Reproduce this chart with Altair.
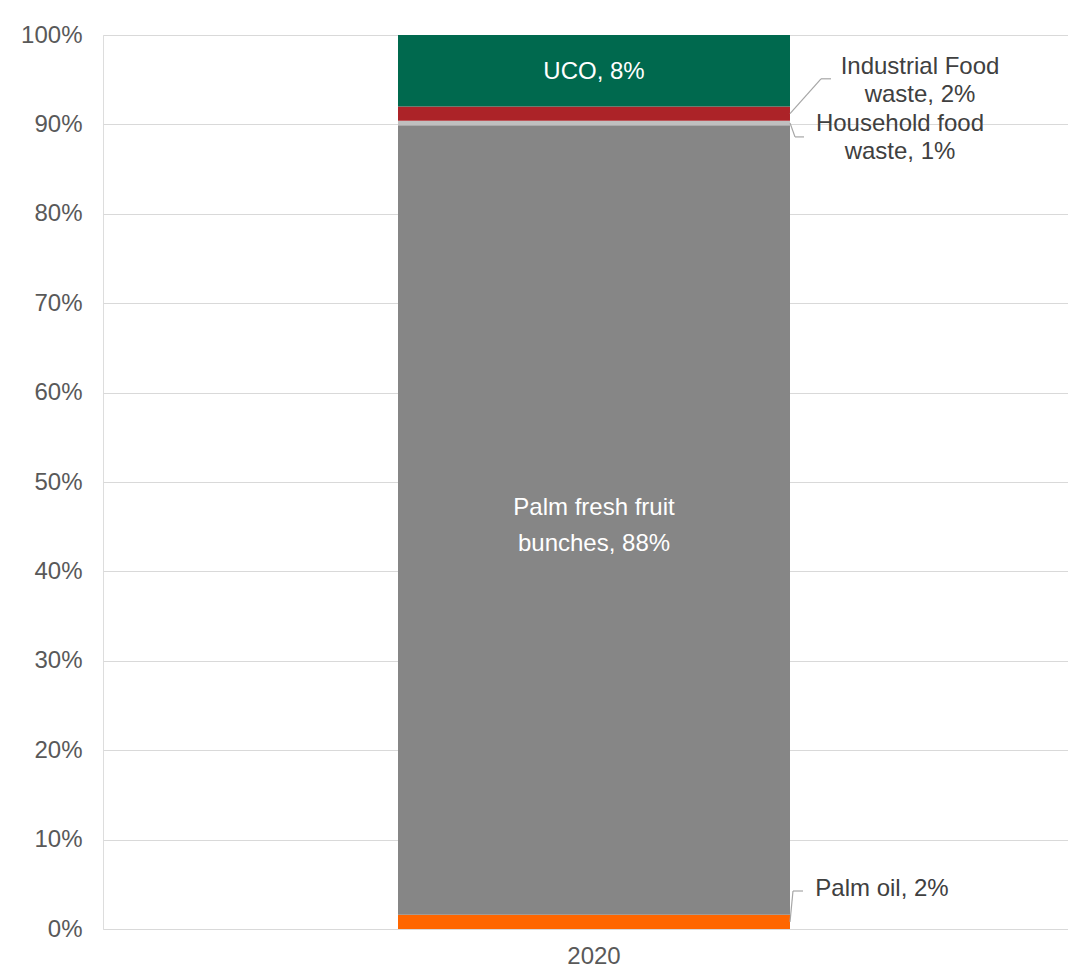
import altair as alt
import pandas as pd

# ---- data ----
categories = ["Palm oil", "Palm fresh fruit bunches", "Household food waste",
              "Industrial Food waste", "UCO"]
shares = [1.6, 88.3, 0.5, 1.6, 8.0]
colors = ["#FF6600", "#868686", "#BFBFBF", "#AC2328", "#00694E"]
label_lines = [["Palm oil, 2%"], ["Palm fresh fruit", "bunches, 88%"],
               ["Household food", "waste, 1%"], ["Industrial Food", "waste, 2%"],
               ["UCO, 8%"]]
inside = [False, True, False, False, True]
year = "2020"
y_ticks = list(range(0, 101, 10))

# ---- layout (pixels / annotation anchors) ----
W, H = 965, 894
BAR = 392
SHIFT = 8.5
FONT = "Liberation Sans"
FS = 24
inner_dy = {"UCO": 1, "Palm fresh fruit bunches": -12}
# outside label anchors: (category, x pixel centre, y value of first line)
outside_pos = {
    "Industrial Food waste": (817, 96.4),
    "Household food waste": (797, 90.0),
    "Palm oil": (779, 4.5),
}
# leader polylines: list of (x pixel, y value) points
leaders = {
    "Industrial Food waste": [(687, None), (718, 95.1), (728, 95.1)],
    "Household food waste": [(687, None), (692, 88.6), (701, 88.6)],
    "Palm oil": [(687, None), (690, 4.25), (700, 4.25)],
}

starts, ends = [], []
acc = 0.0
for v in shares:
    starts.append(acc)
    acc += v
    ends.append(acc)
df = pd.DataFrame({
    "category": categories,
    "year": year,
    "start": starts,
    "end": ends,
    "mid": [(a + b) / 2 for a, b in zip(starts, ends)],
    "lines": label_lines,
    "inside": inside,
})

xenc = alt.X("year:N", title=None,
             scale=alt.Scale(paddingInner=0, paddingOuter=0),
             axis=alt.Axis(labelAngle=0, domain=False, ticks=False, grid=False,
                           labelPadding=15, labelOffset=SHIFT, labelFontSize=FS,
                           labelColor="#595959", labelFont=FONT))
yscale = alt.Scale(domain=[0, 100], nice=False)

bars = alt.Chart(df).mark_bar(size=BAR, xOffset=SHIFT).encode(
    x=xenc,
    y=alt.Y("start:Q", scale=yscale, title=None,
            axis=alt.Axis(values=y_ticks, labelExpr="datum.value + '%'",
                          domain=False, ticks=False, gridColor="#D9D9D9",
                          gridWidth=1, labelPadding=21, labelFontSize=FS,
                          labelColor="#595959", labelFont=FONT)),
    y2="end:Q",
    color=alt.Color("category:N", scale=alt.Scale(domain=categories, range=colors),
                    legend=None),
)

layers = [bars]

for cat, dy in inner_dy.items():
    layers.append(
        alt.Chart(df[df["category"] == cat]).mark_text(
            color="white", fontSize=FS, font=FONT, lineHeight=36, baseline="middle",
            xOffset=SHIFT, dy=dy,
        ).encode(x="year:N", y=alt.Y("mid:Q", scale=yscale), text="lines")
    )

mids = dict(zip(categories, df["mid"]))
for cat, (px, yv) in outside_pos.items():
    sub = df[df["category"] == cat].copy()
    layers.append(
        alt.Chart(sub).mark_text(color="#404040", fontSize=FS, font=FONT,
                                 lineHeight=28, baseline="middle", align="center")
        .encode(x=alt.value(px), y=alt.datum(yv, scale=yscale), text="lines")
    )
for cat, pts in leaders.items():
    pts = [(x, mids[cat] if y is None else y) for x, y in pts]
    for (x1, y1), (x2, y2) in zip(pts[:-1], pts[1:]):
        layers.append(
            alt.Chart(df[df["category"] == cat]).mark_rule(color="#A6A6A6", strokeWidth=1.2)
            .encode(x=alt.value(x1), x2=alt.value(x2),
                    y=alt.datum(y1), y2=alt.datum(y2))
        )

chart = alt.layer(*layers).properties(
    width=W, height=H,
    autosize=alt.AutoSizeParams(type="none"),
    padding={"left": 95, "top": 27, "right": 0, "bottom": 39},
).configure_view(stroke=None).configure(font=FONT)

chart.save("out.html", embed_options={"renderer": "svg", "actions": False})
